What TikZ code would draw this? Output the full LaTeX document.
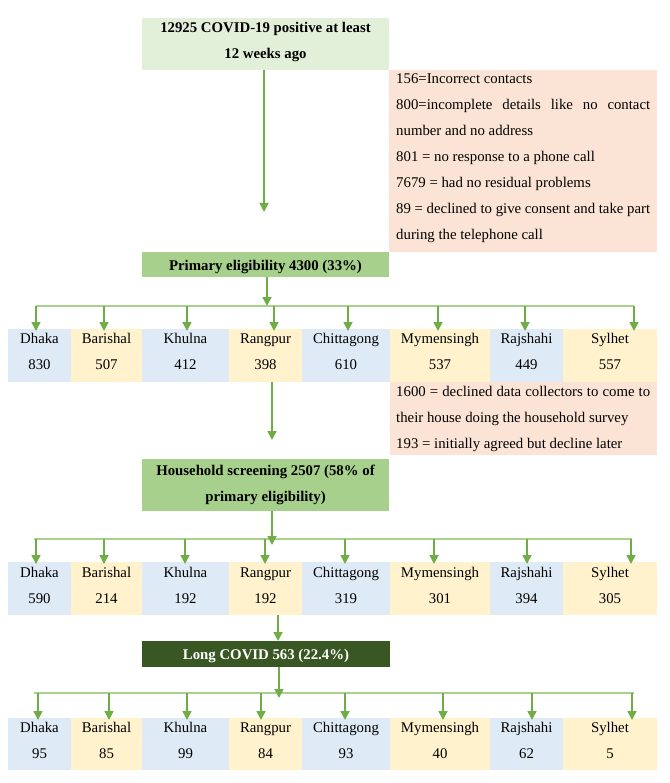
\documentclass[tikz,border=0pt]{standalone}
\usepackage{fontspec}
\setmainfont{Liberation Serif}
\usetikzlibrary{arrows.meta}
\definecolor{arrowgreen}{HTML}{70AD47}
\definecolor{busgreen}{HTML}{A9D18E}
\definecolor{topgreen}{HTML}{E2EFD9}
\definecolor{midgreen}{HTML}{A8D08D}
\definecolor{darkgreen}{HTML}{385723}
\definecolor{peach}{HTML}{FBE4D5}
\definecolor{cellblue}{HTML}{DEEAF6}
\definecolor{cellyellow}{HTML}{FFF2CC}
\begin{document}
\begin{tikzpicture}[x=1pt,y=-1pt,
  box/.style={rectangle, inner sep=0pt, outer sep=0pt, anchor=north west},
  txt/.style={font=\fontsize{14.8}{26}\selectfont, inner sep=0pt},
  btxt/.style={font=\fontsize{14.8}{26}\selectfont\bfseries, inner sep=0pt, anchor=base},
  ltxt/.style={txt, anchor=base west},
  arr/.style={draw=arrowgreen, line width=1.7pt, -{Triangle[length=9pt,width=9pt]}},
  bus/.style={draw=busgreen, line width=1.6pt}]
\useasboundingbox (0,0) rectangle (669,783);
\fill[white] (0,0) rectangle (669,783);

% top box
\node[box, fill=topgreen, minimum width=247pt, minimum height=52pt] (top) at (142,18) {};
\node[btxt] (topl1) at (265.5,33) {12925 COVID-19 positive at least};
\node[btxt] (topl2) at (265.5,59) {12 weeks ago};

% exclusion box 1
\node[box, fill=peach, minimum width=268pt, minimum height=182pt] (ex1) at (389,70) {};
\node[ltxt] (ex1l1) at (396,84) {156=Incorrect contacts};
\node[ltxt] (ex1l2) at (396,110) {\makebox[254pt][s]{800=incomplete details like no contact}};
\node[ltxt] (ex1l3) at (396,136) {number and no address};
\node[ltxt] (ex1l4) at (396,162) {801 = no response to a phone call};
\node[ltxt] (ex1l5) at (396,188) {7679 = had no residual problems};
\node[ltxt] (ex1l6) at (396,214) {\makebox[254pt][s]{89 = declined to give consent and take part}};
\node[ltxt] (ex1l7) at (396,240) {during the telephone call};

\coordinate (a1end) at (264,212);
\draw[arr] (top.south -| a1end) -- (a1end);

% primary eligibility
\node[box, fill=midgreen, minimum width=247pt, minimum height=25pt] (prim) at (142,252) {};
\node[btxt] (priml) at (265.5,270) {Primary eligibility 4300 (33\%)};

% bus 1
\coordinate (b1L) at (36,306);
\coordinate (b1R) at (634,306);
\draw[bus] (b1L) -- (b1R);
\coordinate (b1c) at (267,306);
\draw[arr] (prim.south -| b1c) -- (b1c);

% row 1 cells
\foreach \i/\xa/\w/\col/\nm/\num/\ax in {
  1/8/63/cellblue/Dhaka/830/36,
  2/71/71/cellyellow/Barishal/507/104,
  3/142/87/cellblue/Khulna/412/187,
  4/229/73/cellyellow/Rangpur/398/274,
  5/302/88/cellblue/Chittagong/610/348,
  6/390/100/cellyellow/Mymensingh/537/438,
  7/490/73/cellblue/Rajshahi/449/525,
  8/563/94/cellyellow/Sylhet/557/634}{
  \node[box, fill=\col, minimum width=\w pt, minimum height=53pt] (c1-\i) at (\xa,329) {};
  \node[txt, anchor=base] (n1-\i) at (\xa+\w/2,343) {\nm};
  \node[txt, anchor=base] (v1-\i) at (\xa+\w/2,369) {\num};
  \coordinate (t1-\i) at (\ax,306);
  \draw[arr] (t1-\i) -- ([yshift=-2pt]t1-\i |- c1-\i.north);
}

% exclusion box 2
\node[box, fill=peach, minimum width=267pt, minimum height=73pt] (ex2) at (390,382) {};
\node[ltxt] (ex2l1) at (396,396) {\makebox[254pt][s]{1600 = declined data collectors to come to}};
\node[ltxt] (ex2l2) at (396,422) {their house doing the household survey};
\node[ltxt] (ex2l3) at (396,448) {193 = initially agreed but decline later};

\coordinate (a3end) at (272,440);
\draw[arr] (c1-4.south -| a3end) -- (a3end);

% household screening
\node[box, fill=midgreen, minimum width=247pt, minimum height=52pt] (hh) at (142,459) {};
\node[btxt] (hhl1) at (265.5,475) {Household screening 2507 (58\% of};
\node[btxt] (hhl2) at (265.5,501) {primary eligibility)};

% bus 2
\coordinate (b2L) at (34,539);
\coordinate (b2R) at (632,539);
\draw[bus] (b2L) -- (b2R);
\coordinate (b2c) at (272,545);
\draw[arr] (hh.south -| b2c) -- (b2c);

% row 2 cells
\foreach \i/\xa/\w/\col/\nm/\num/\ax in {
  1/8/63/cellblue/Dhaka/590/36,
  2/71/71/cellyellow/Barishal/214/104,
  3/142/87/cellblue/Khulna/192/185,
  4/229/73/cellyellow/Rangpur/192/265,
  5/302/88/cellblue/Chittagong/319/345,
  6/390/100/cellyellow/Mymensingh/301/434,
  7/490/73/cellblue/Rajshahi/394/527,
  8/563/94/cellyellow/Sylhet/305/631}{
  \node[box, fill=\col, minimum width=\w pt, minimum height=53pt] (c2-\i) at (\xa,562) {};
  \node[txt, anchor=base] (n2-\i) at (\xa+\w/2,577) {\nm};
  \node[txt, anchor=base] (v2-\i) at (\xa+\w/2,603) {\num};
  \coordinate (t2-\i) at (\ax,539);
  \draw[arr] (t2-\i) -- ([yshift=-2pt]t2-\i |- c2-\i.north);
}

% long covid
\node[box, fill=darkgreen, minimum width=248pt, minimum height=26pt] (lc) at (142,641) {};
\node[btxt, text=white] (lcl) at (266,659) {Long COVID 563 (22.4\%)};
\coordinate (a5) at (278,615);
\draw[arr] (a5) -- (a5 |- lc.north);

% bus 3
\coordinate (b3L) at (34,693);
\coordinate (b3R) at (634,693);
\draw[bus] (b3L) -- (b3R);
\coordinate (b3c) at (279,698);
\draw[arr] (lc.south -| b3c) -- (b3c);

% row 3 cells
\foreach \i/\xa/\w/\col/\nm/\num/\ax in {
  1/8/63/cellblue/Dhaka/95/38,
  2/71/71/cellyellow/Barishal/85/109,
  3/142/87/cellblue/Khulna/99/187,
  4/229/73/cellyellow/Rangpur/84/261,
  5/302/88/cellblue/Chittagong/93/345,
  6/390/100/cellyellow/Mymensingh/40/443,
  7/490/73/cellblue/Rajshahi/62/532,
  8/563/94/cellyellow/Sylhet/5/632}{
  \node[box, fill=\col, minimum width=\w pt, minimum height=52pt] (c3-\i) at (\xa,718) {};
  \node[txt, anchor=base] (n3-\i) at (\xa+\w/2,732) {\nm};
  \node[txt, anchor=base] (v3-\i) at (\xa+\w/2,758) {\num};
  \coordinate (t3-\i) at (\ax,693);
  \draw[arr] (t3-\i) -- ([yshift=-2pt]t3-\i |- c3-\i.north);
}
\end{tikzpicture}
\end{document}
